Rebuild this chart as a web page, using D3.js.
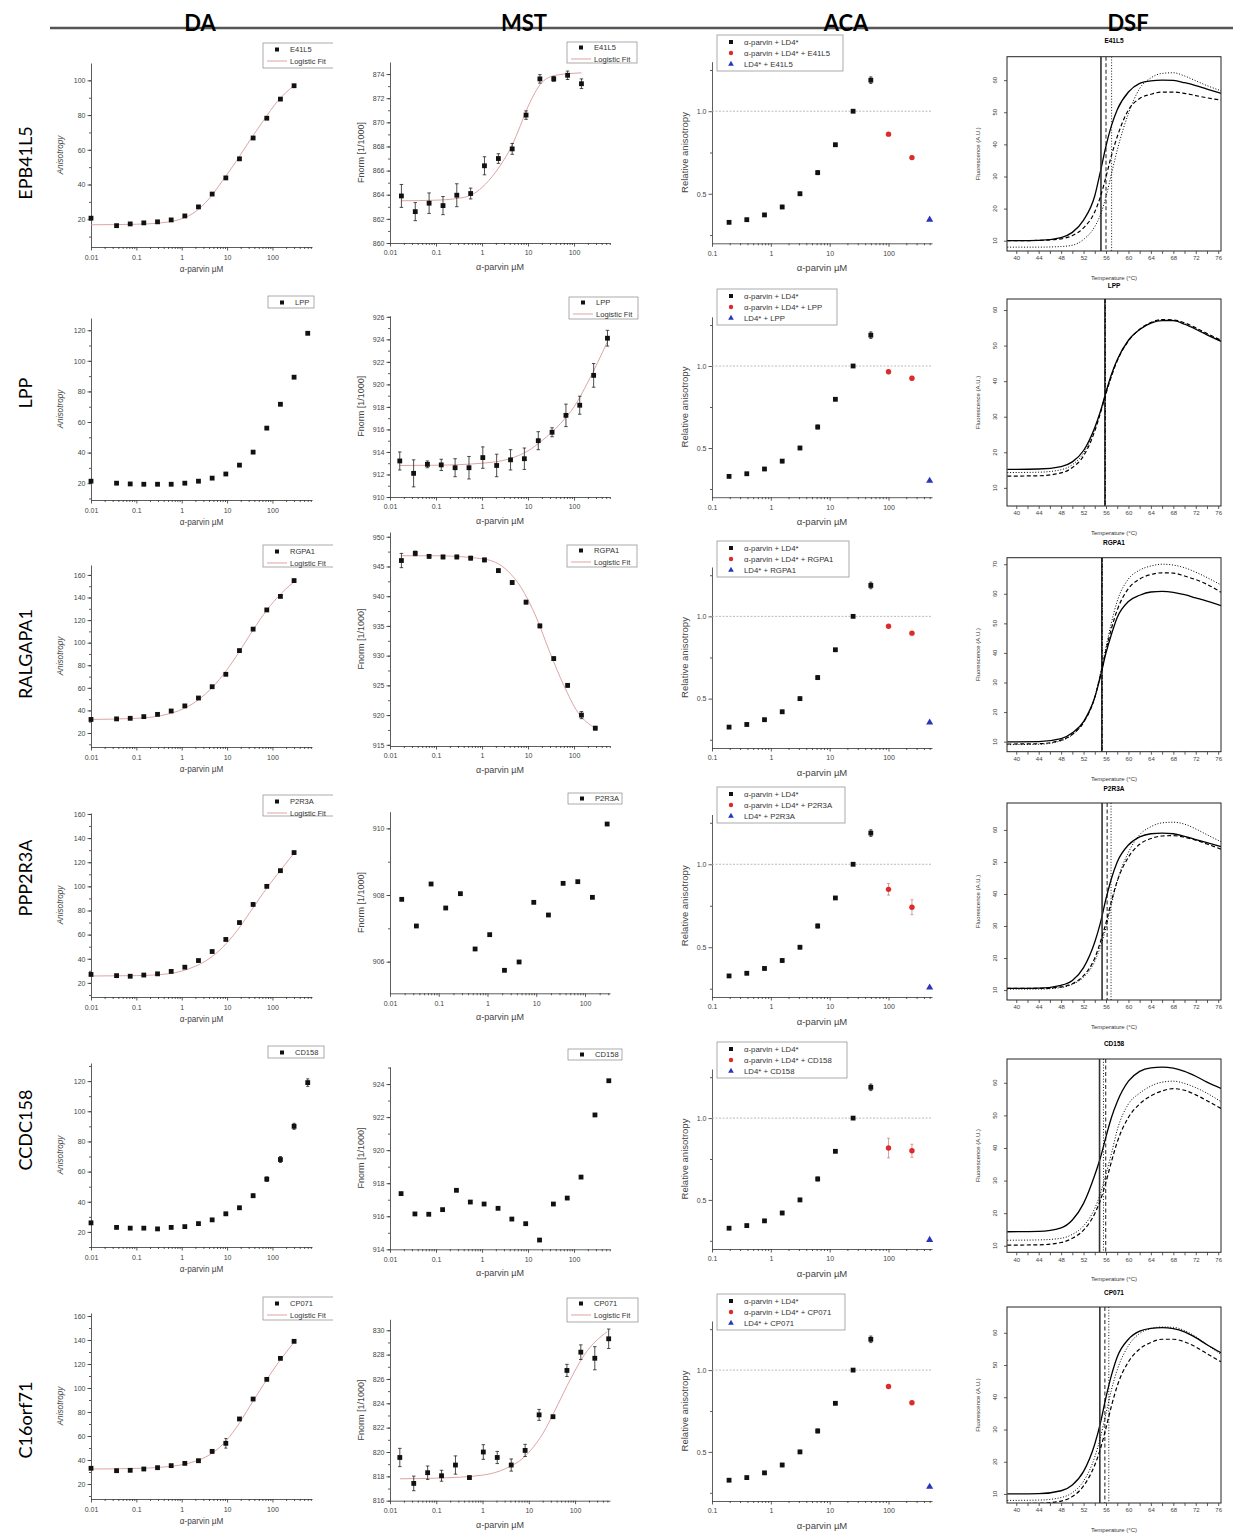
<!DOCTYPE html>
<html>
<head>
<meta charset="utf-8">
<script src="https://cdn.jsdelivr.net/npm/d3@7"></script>
<style>
  body { margin: 0; background: #fff; }
  svg { display: block; }
</style>
</head>
<body>
<svg id="fig" width="1233" height="1534"></svg>
<script>

/*******************************************************************************/
/* DATA */

const rowNames = ["EPB41L5", "LPP", "RALGAPA1", "PPP2R3A", "CCDC158", "C16orf71"];
const shortNames = ["E41L5", "LPP", "RGPA1", "P2R3A", "CD158", "CP071"];
const columnTitles = ["DA", "MST", "ACA", "DSF"];

/* DA : anisotropy vs alpha-parvin (uM); the buffer point sits at 0.01 */
const daConc = [0.01, 0.0366, 0.0732, 0.146, 0.293, 0.586, 1.17, 2.34, 4.69, 9.38, 18.75, 37.5, 75, 150, 300, 600];
const daE41L5 = [20.6, 16.3, 17.3, 17.9, 18.5, 19.6, 21.9, 27.1, 34.5, 43.8, 54.8, 66.8, 78.2, 89.2, 96.9];
const daLPP = [21.3, 20, 19.5, 19.3, 19.3, 19.3, 20, 21.3, 23.3, 26, 31.8, 40.3, 56, 71.6, 89.3, 118];
const daRGPA1 = [32, 32.5, 33, 34.5, 36.5, 39.5, 44, 51, 61, 72, 93, 112, 129, 141, 155];
const daP2R3A = [27, 26, 25.5, 26.5, 27.5, 29.5, 33, 38.5, 46, 56, 70, 85, 100, 113, 128];
const daCD158 = [26, 23, 22.5, 22.5, 22, 23, 23.5, 25.5, 28, 32, 36, 44, 55, 68, 90, 119];
const daCP071 = [33.1, 31.1, 31.4, 32.5, 33.6, 35.3, 37.2, 39.4, 47.2, 53.9, 74.2, 90.8, 107.2, 124.7, 138.9];
const daErrCD158 = [1, 0.6, 0.6, 0.6, 0.6, 0.6, 0.6, 0.8, 0.8, 1, 1, 1.2, 1.5, 2, 2, 2.5];
const daErrCP071 = [1, 0.6, 0.6, 0.6, 0.6, 0.6, 0.8, 0.8, 1.5, 4, 1, 1, 1, 1, 1];

const daFitX = [0.01, 0.1, 0.5, 1, 2, 4, 8, 16, 32, 64, 128, 300];
const daFitE41L5 = [16.8, 17.1, 18.4, 20.3, 24.3, 31.8, 42.3, 53.5, 65.5, 77, 87.8, 97];
const daFitRGPA1 = [32, 33, 36.8, 40.8, 47.5, 57.5, 71, 88, 107, 125, 140, 154];
const daFitP2R3A = [25.7, 26, 27.5, 29.8, 33.8, 40, 49.5, 62.5, 78.5, 95, 110, 127.5];
const daFitCP071 = [32.5, 33, 34.5, 36, 39, 44, 53, 67, 85, 103, 120, 138];

/* MST : Fnorm [1/1000] vs alpha-parvin (uM) */
const mstConcA = [0.0177, 0.0354, 0.0708, 0.142, 0.283, 0.566, 1.13, 2.27, 4.53, 9.06, 18.1, 36.2, 72.5, 145, 290];
const mstConcB = [0.0163, 0.0326, 0.0651, 0.130, 0.260, 0.521, 1.04, 2.08, 4.17, 8.33, 16.7, 33.3, 66.7, 133, 267, 533];
const mstConcC = [0.0174, 0.0348, 0.0696, 0.139, 0.278, 0.557, 1.11, 2.23, 4.45, 8.9, 17.8, 35.6, 71.2, 142, 285, 570];

const mstE41L5 = [863.9, 862.6, 863.3, 863.1, 863.96, 864.1, 866.4, 867.0, 867.8, 870.6, 873.6, 873.6, 873.9, 873.2];
const mstErrE41L5 = [0.95, 0.75, 0.85, 0.75, 0.95, 0.45, 0.75, 0.4, 0.45, 0.35, 0.35, 0.2, 0.35, 0.4];
const mstLPP = [913.2, 912.1, 912.9, 912.85, 912.6, 912.6, 913.5, 912.8, 913.3, 913.4, 915.0, 915.75, 917.25, 918.15, 920.8, 924.1];
const mstErrLPP = [0.8, 1.2, 0.3, 0.5, 0.8, 1.0, 0.95, 1.0, 0.9, 0.95, 0.8, 0.4, 1.0, 0.8, 1.05, 0.7];
const mstRGPA1 = [946, 947.2, 946.7, 946.6, 946.6, 946.4, 946.1, 944.3, 942.3, 939, 935, 929.5, 925, 920, 917.8];
const mstErrRGPA1 = [1.2, 0.4, 0.3, 0.3, 0.3, 0.3, 0.3, 0.3, 0.3, 0.3, 0.3, 0.3, 0.3, 0.6, 0.3];
const mstP2R3A = [907.87, 907.07, 908.33, 907.61, 908.04, 906.38, 906.81, 905.74, 905.99, 907.78, 907.4, 908.35, 908.4, 907.93, 910.13];
const mstCD158 = [917.37, 916.14, 916.12, 916.4, 917.57, 916.86, 916.74, 916.48, 915.83, 915.55, 914.56, 916.74, 917.1, 918.37, 922.13, 924.2];
const mstCP071 = [819.55, 817.42, 818.3, 818.05, 818.93, 817.9, 820.0, 819.55, 818.93, 820.13, 823.05, 822.9, 826.7, 828.2, 827.7, 829.3];
const mstErrCP071 = [0.75, 0.6, 0.55, 0.45, 0.75, 0.1, 0.6, 0.5, 0.5, 0.5, 0.45, 0.1, 0.5, 0.6, 0.95, 0.8];

const mstFitE41L5X = [0.0177, 0.1, 0.3, 0.6, 1, 2, 3, 4, 6, 10, 20, 40, 145];
const mstFitE41L5 = [863.5, 863.55, 863.7, 864.0, 864.6, 865.9, 866.9, 867.7, 869.2, 871.3, 873.3, 873.9, 874.1];
const mstFitLPPX = [0.0163, 0.1, 1, 4, 10, 20, 50, 100, 200, 533];
const mstFitLPP = [912.8, 912.82, 913.0, 913.4, 914.1, 915.0, 916.5, 918, 920.2, 923.8];
const mstFitRGPA1X = [0.0177, 0.1, 1, 3, 7, 15, 30, 60, 120, 290];
const mstFitRGPA1 = [946.8, 946.8, 946.3, 944.8, 941.5, 936.5, 930.5, 925, 920.5, 917.8];
const mstFitCP071X = [0.0164, 0.1, 1, 3, 8, 20, 40, 80, 160, 500];
const mstFitCP071 = [817.8, 817.85, 818.1, 818.6, 819.6, 821.5, 823.7, 826, 828, 829.9];

/* ACA : relative anisotropy */
const acaConc = [0.195, 0.39, 0.78, 1.56, 3.125, 6.25, 12.5, 25, 50];
const acaBlack = [0.327, 0.343, 0.372, 0.42, 0.50, 0.628, 0.797, 1.0, 1.188];
const acaBlackErr = [0.008, 0.008, 0.008, 0.01, 0.01, 0.012, 0.008, 0, 0.02];
const acaRedConc = [100, 250];
const acaBlueConc = [500];
const acaRed = [[0.861, 0.719], [0.965, 0.925], [0.94, 0.898], [0.849, 0.741], [0.817, 0.80], [0.90, 0.80]];
const acaRedErr = [[0.01, 0.01], [0.012, 0.012], [0.01, 0.01], [0.035, 0.045], [0.06, 0.04], [0.01, 0.01]];
const acaBlue = [0.343, 0.30, 0.355, 0.257, 0.256, 0.287];

/* DSF : fluorescence (A.U.) vs temperature (C) */
const dsfT = [38.4, 44, 48, 50, 52, 54, 55, 56, 57, 58, 60, 62, 64, 66, 68, 70, 72, 74, 76.5];
const dsfSolid = [
  [10, 10.1, 11, 12.6, 16.4, 24, 31.5, 39.5, 46, 50.8, 56.3, 59, 59.8, 60, 59.9, 59.2, 58.3, 57.2, 55.9],
  [15.2, 15.3, 16, 17.3, 20.5, 27, 31.5, 37, 42, 46, 51.5, 54.5, 56.3, 57, 57, 56, 54.6, 53, 51.2],
  [9.9, 10, 11, 13, 16.8, 25, 32, 40, 46.5, 52, 57.4, 59.5, 60.6, 60.8, 60.5, 59.7, 58.6, 57.5, 56],
  [10.5, 10.6, 11.5, 13, 17, 25, 31, 38.5, 45, 50, 55.3, 57.8, 58.8, 59, 58.8, 58, 57, 56, 54.8],
  [14.3, 14.4, 15.5, 17.9, 23, 31.7, 37, 43.5, 49.5, 54.2, 60.5, 63.5, 64.6, 64.8, 64.5, 63.5, 62, 60.2, 58.3],
  [10, 10.1, 11, 12.8, 17, 25.5, 32, 40, 47, 52.5, 58, 60.5, 61.4, 61.6, 61.3, 60.3, 58.5, 56.3, 53.8]
];
const dsfDashed = [
  [10, 10.1, 10.6, 11.6, 14, 19, 23.7, 29.9, 36.7, 42.4, 50.7, 54.3, 55.6, 56.3, 56.3, 55.9, 55.2, 54.5, 53.8],
  [13.3, 13.4, 14.2, 15.7, 19, 26, 31, 36.5, 41.5, 45.7, 51.3, 54.6, 56.5, 57.3, 57.2, 56.4, 55, 53.4, 51.5],
  [9.2, 9.3, 10.5, 12.5, 16.5, 25, 32.5, 41, 48.5, 54.5, 61.8, 65, 66.5, 67.1, 67, 66, 64.8, 63.2, 60.5],
  [10.5, 10.5, 11, 12, 14.5, 20, 25, 31, 38, 44, 51.5, 55.5, 57.3, 58.1, 58.2, 57.7, 56.8, 55.6, 54],
  [10.2, 10.3, 11, 12.3, 14.8, 19.9, 24, 29.6, 36, 41.8, 49.4, 53.5, 56, 57.5, 58.2, 57.7, 56.3, 54.5, 52.1],
  [7, 7.1, 7.8, 9.2, 12.5, 19, 24, 30.5, 37.5, 43.5, 51, 55, 57, 58, 58, 57.2, 55.6, 53.5, 51]
];
const dsfDotted = [
  [8, 8, 8.2, 8.6, 10.4, 14.4, 18, 23.7, 31, 38.2, 49.6, 57.4, 60.7, 62.1, 62.3, 61.3, 59.8, 58.3, 56.7],
  [14.3, 14.4, 15.1, 16.5, 19.8, 26.5, 31.2, 36.8, 41.8, 45.9, 51.4, 54.5, 56.4, 57.2, 57.1, 56.2, 54.8, 53.2, 51.3],
  [9, 9.1, 10.3, 12.3, 16.5, 25, 33, 42, 50.5, 57.5, 65, 68, 69.4, 70, 69.7, 68.8, 67.3, 65.5, 63],
  [10.3, 10.3, 10.8, 11.8, 14, 19, 23.5, 29.5, 37, 44, 53, 58.5, 61, 62.2, 62.4, 61.8, 60.3, 58.5, 56.3],
  [11.7, 11.8, 12.3, 13.5, 16.1, 21.5, 26, 32, 38.5, 45.5, 53.5, 56.8, 59, 60.2, 60.5, 59.8, 58.5, 56.8, 54.2],
  [8, 8.1, 8.9, 10.4, 14, 21.5, 27.5, 35, 42.5, 48.5, 56, 59.8, 61.3, 61.8, 61.7, 60.7, 58.8, 56.3, 53.3]
];
// melting temperatures: [solid, dashed, dotted]
const dsfTm = [[55.1, 56.0, 57.0], [55.8, 55.85, 55.9], [55.25, 55.3, 55.35], [55.3, 56.2, 56.9], [54.85, 55.95, 55.55], [54.9, 55.8, 56.5]];


/*******************************************************************************/
/* LAYOUT */

const axisFont = "'Liberation Sans', Arial, sans-serif";
const labelFont = "Lato, 'Open Sans', sans-serif";

const daLayout = [
  {top: 63, bottom: 247, yDomain: [4, 110], yStep: 20},
  {top: 318, bottom: 500, yDomain: [9, 128], yStep: 20},
  {top: 565, bottom: 747, yDomain: [7.6, 168.8], yStep: 20},
  {top: 813, bottom: 997, yDomain: [8.3, 160.8], yStep: 20},
  {top: 1063, bottom: 1247, yDomain: [10, 132], yStep: 20},
  {top: 1313, bottom: 1499, yDomain: [7.5, 162.5], yStep: 20}
];
const daLegend = [[263, 43, 25], [268, 296, 12], [263, 545, 22], [263, 795, 21], [268, 1046, 12], [263, 1297, 23]];

const mstLayout = [
  {top: 62, bottom: 243, yDomain: [860, 875], yStep: 2, xMax: 605},
  {top: 315.7, bottom: 497, yDomain: [910, 926.1], yStep: 2, xMax: 605},
  {top: 532, bottom: 746, yDomain: [914.8, 950.8], yStep: 5, xMax: 605},
  {top: 811.7, bottom: 993.3, yDomain: [905.05, 910.5], yStep: 2, xMax: 326},
  {top: 1066.7, bottom: 1249.3, yDomain: [914, 925.05], yStep: 2, xMax: 605},
  {top: 1319.3, bottom: 1500.7, yDomain: [816, 830.9], yStep: 2, xMax: 569}
];
const mstLegend = [[567, 42, 70, 21], [569, 297, 69, 22], [567, 545, 70, 22], [568, 793, 54, 11], [568, 1049, 54, 11], [567, 1298, 71, 24]];

const acaLayout = [
  {top: 61.7, bottom: 243.3}, {top: 316.8, bottom: 497.2}, {top: 567, bottom: 748},
  {top: 814.5, bottom: 997}, {top: 1069, bottom: 1249}, {top: 1321, bottom: 1501}
];
const acaLegend = [[717, 35, 126], [717, 289, 120], [717, 541, 132], [717, 787, 128], [717, 1042, 130], [717, 1294, 128]];

const dsfLayout = [
  {top: 56.7, bottom: 251, yDomain: [6.8, 67.3], yMax: 60, title: 43},
  {top: 299, bottom: 506, yDomain: [4.9, 63.1], yMax: 60, title: 288},
  {top: 557.7, bottom: 751.7, yDomain: [6.6, 72.2], yMax: 70, title: 545},
  {top: 803, bottom: 1000, yDomain: [6.9, 68.4], yMax: 60, title: 791},
  {top: 1059, bottom: 1252.3, yDomain: [8, 67.3], yMax: 60, title: 1046},
  {top: 1307, bottom: 1503, yDomain: [7.2, 68], yMax: 60, title: 1295}
];

const rowLabelY = [163, 393, 654, 878, 1130, 1420];
const headerX = [200, 524, 846, 1128];

const fitColor = "#d99a9a";


/*******************************************************************************/
/* PAGE */

const svg = d3.select("#fig");

svg.append("line")
  .attr("x1", 50).attr("x2", 1233).attr("y1", 28).attr("y2", 28)
  .attr("stroke", "#555").attr("stroke-width", 2.5);

columnTitles.forEach(function(t, i) {
  svg.append("text")
    .attr("x", headerX[i]).attr("y", 31)
    .attr("text-anchor", "middle")
    .attr("font-family", labelFont).attr("font-weight", "bold").attr("font-size", 22)
    .text(t);
});

rowNames.forEach(function(t, i) {
  svg.append("text")
    .attr("transform", translate(32, rowLabelY[i]) + " rotate(-90)")
    .attr("text-anchor", "middle")
    .attr("font-family", labelFont).attr("font-size", 18)
    .text(t);
});

const defs = svg.append("defs");
defs.append("clipPath").attr("id", "daClip")
  .append("rect").attr("x", 0).attr("y", 0).attr("width", 333).attr("height", 1534);


/*******************************************************************************/
/* DA */

const daRows = [
  {ys: daE41L5, fit: daFitE41L5},
  {ys: daLPP, fit: null},
  {ys: daRGPA1, fit: daFitRGPA1},
  {ys: daP2R3A, fit: daFitP2R3A},
  {ys: daCD158, fit: null, err: daErrCD158},
  {ys: daCP071, fit: daFitCP071, err: daErrCP071}
];

daRows.forEach(function(row, r) {
  const L = daLayout[r];
  const p = originPanel({
    left: 91, right: 312, top: L.top, bottom: L.bottom,
    xDomain: [0.01, 745], yDomain: L.yDomain,
    yMajor: d3.range(20, L.yDomain[1] + 0.01, L.yStep),
    yMinor: d3.range(10, L.yDomain[1], L.yStep / 2),
    tickFont: 7, titleFont: 8.2,
    yTitle: "Anisotropy", yTitleX: 63, yItalic: true,
    xLabelDy: 11, xTitleDy: 25
  });
  if (row.fit) drawPath(p.g, p.x, p.y, daFitX, row.fit, fitColor, 0.9);
  drawSquares(p.g, p.x, p.y, daConc, row.ys, row.err || row.ys.map(() => 0.5));

  const lg = svg.append("g").attr("clip-path", "url(#daClip)");
  const [lx, ly, lh] = daLegend[r];
  const entries = [{type: "square", label: shortNames[r]}];
  if (row.fit) entries.push({type: "line", label: "Logistic Fit"});
  drawLegend(lg, lx, ly, row.fit ? 80 : (r === 1 ? 46 : 56), lh, entries, 6.5, 11.5, 7.5);
});


/*******************************************************************************/
/* MST */

const mstRows = [
  {xs: mstConcA, ys: mstE41L5, err: mstErrE41L5, fitX: mstFitE41L5X, fit: mstFitE41L5},
  {xs: mstConcB, ys: mstLPP, err: mstErrLPP, fitX: mstFitLPPX, fit: mstFitLPP},
  {xs: mstConcA, ys: mstRGPA1, err: mstErrRGPA1, fitX: mstFitRGPA1X, fit: mstFitRGPA1},
  {xs: mstConcC, ys: mstP2R3A, err: null},
  {xs: mstConcC, ys: mstCD158, err: null},
  {xs: mstConcB, ys: mstCP071, err: mstErrCP071, fitX: mstFitCP071X, fit: mstFitCP071}
];

mstRows.forEach(function(row, r) {
  const L = mstLayout[r];
  const first = Math.ceil(L.yDomain[0] / L.yStep) * L.yStep;
  const p = originPanel({
    left: 390, right: 610, top: L.top, bottom: L.bottom,
    xDomain: [0.01, L.xMax], yDomain: L.yDomain,
    yMajor: d3.range(first, L.yDomain[1] + 0.01, L.yStep),
    yMinor: d3.range(first - L.yStep / 2, L.yDomain[1], L.yStep / 2).filter(v => v >= L.yDomain[0]),
    tickFont: 7, titleFont: 9,
    yTitle: "Fnorm [1/1000]", yTitleX: 364, yItalic: false,
    xLabelDy: 10, xTitleDy: 27
  });
  if (row.fit) drawPath(p.g, p.x, p.y, row.fitX, row.fit, fitColor, 0.9);
  if (row.err) drawErrors(p.g, p.x, p.y, row.xs, row.ys, row.err, 3.5);
  drawSquares(p.g, p.x, p.y, row.xs, row.ys, null);

  const [lx, ly, lw, lh] = mstLegend[r];
  const entries = [{type: "square", label: shortNames[r]}];
  if (row.fit) entries.push({type: "line", label: "Logistic Fit"});
  drawLegend(svg.append("g"), lx, ly, lw, lh, entries, 5.5, 11.5, 7.6);
});


/*******************************************************************************/
/* ACA */

acaLayout.forEach(function(L, r) {
  const p = originPanel({
    left: 712, right: 932, top: L.top, bottom: L.bottom,
    xDomain: [0.1, 548], yDomain: [0.2, 1.3],
    yMajor: [0.5, 1.0], yMinor: [0.25, 0.75, 1.25],
    yFormat: d3.format(".1f"),
    tickFont: 7, titleFont: 9.5,
    yTitle: "Relative anisotropy", yTitleX: 688, yItalic: false,
    xLabelDy: 10, xTitleDy: 28
  });

  p.g.append("line")
    .attr("x1", 712).attr("x2", 931).attr("y1", p.y(1)).attr("y2", p.y(1))
    .attr("stroke", "#aaa").attr("stroke-width", 0.8).attr("stroke-dasharray", "2,1.5");

  drawErrors(p.g, p.x, p.y, acaConc, acaBlack, acaBlackErr, 3);
  drawSquares(p.g, p.x, p.y, acaConc, acaBlack, null);

  drawErrors(p.g, p.x, p.y, acaRedConc, acaRed[r], acaRedErr[r], 3, "#c88");
  p.g.selectAll("circle.red")
    .data(acaRedConc.map((c, i) => [c, acaRed[r][i]]))
    .enter().append("circle")
    .attr("class", "red")
    .attr("cx", d => p.x(d[0])).attr("cy", d => p.y(d[1]))
    .attr("r", 2.7).attr("fill", "#dd2a2a");

  p.g.selectAll("path.blue")
    .data(acaBlueConc.map(c => [c, acaBlue[r]]))
    .enter().append("path")
    .attr("class", "blue")
    .attr("d", d3.symbol(d3.symbolTriangle, 22))
    .attr("transform", d => translate(p.x(d[0]), p.y(d[1])))
    .attr("fill", "#2a36b8");

  const [lx, ly, lw] = acaLegend[r];
  drawLegend(svg.append("g"), lx, ly, lw, 36, [
    {type: "square", label: "\u03b1-parvin + LD4*"},
    {type: "circle", label: "\u03b1-parvin + LD4* + " + shortNames[r]},
    {type: "triangle", label: "LD4* + " + shortNames[r]}
  ], 7, 11, 7.8);
});


/*******************************************************************************/
/* DSF */

dsfLayout.forEach(function(L, r) {
  const left = 1007, right = 1221;
  const x = d3.scaleLinear().domain([38.35, 76.5]).range([left, right]);
  const y = d3.scaleLinear().domain(L.yDomain).range([L.bottom, L.top]);
  const g = svg.append("g");

  defs.append("clipPath").attr("id", "dsfClip" + r)
    .append("rect").attr("x", left).attr("y", L.top).attr("width", right - left).attr("height", L.bottom - L.top);

  const plot = g.append("g").attr("clip-path", "url(#dsfClip" + r + ")");
  const line = d3.line().x(d => x(d[0])).y(d => y(d[1])).curve(d3.curveMonotoneX);

  const styles = [
    {data: dsfSolid[r], dash: null, w: 1.3},
    {data: dsfDashed[r], dash: "4,2.5", w: 1.2},
    {data: dsfDotted[r], dash: "1,1.8", w: 1}
  ];
  styles.forEach(function(s, k) {
    plot.append("path")
      .attr("d", line(dsfT.map((t, i) => [t, s.data[i]])))
      .attr("fill", "none").attr("stroke", "#000")
      .attr("stroke-width", s.w).attr("stroke-dasharray", s.dash);
    plot.append("line")
      .attr("x1", x(dsfTm[r][k])).attr("x2", x(dsfTm[r][k]))
      .attr("y1", L.top).attr("y2", L.bottom)
      .attr("stroke", k === 0 ? "#333" : "#000")
      .attr("stroke-width", k === 0 ? 1.6 : 0.9)
      .attr("stroke-dasharray", s.dash);
  });

  g.append("rect")
    .attr("x", left).attr("y", L.top).attr("width", right - left).attr("height", L.bottom - L.top)
    .attr("fill", "none").attr("stroke", "#222").attr("stroke-width", 1);

  const xAxis = g.append("g").attr("transform", translate(0, L.bottom))
    .call(d3.axisBottom(x).tickValues(d3.range(40, 77, 2)).tickSize(3).tickPadding(2)
      .tickFormat(d => d % 4 === 0 ? d : ""));
  styleAxis(xAxis, 6);
  xAxis.select(".domain").remove();

  const yTicks = d3.range(10, L.yMax + 1, 10);
  const yAxis = g.append("g").attr("transform", translate(left, 0))
    .call(d3.axisLeft(y).tickValues(yTicks).tickSize(3).tickFormat(""));
  styleAxis(yAxis, 6);
  yAxis.select(".domain").remove();

  g.selectAll("text.ylab")
    .data(yTicks)
    .enter().append("text")
    .attr("class", "ylab")
    .attr("transform", d => translate(left - 10.5, y(d)) + " rotate(-90)")
    .attr("text-anchor", "middle")
    .attr("font-family", axisFont).attr("font-size", 6).attr("fill", "#333")
    .text(d => d);

  g.append("text")
    .attr("x", (left + right) / 2).attr("y", L.bottom + 29)
    .attr("text-anchor", "middle")
    .attr("font-family", axisFont).attr("font-size", 6).attr("fill", "#333")
    .text("Temperature (\u00b0C)");

  g.append("text")
    .attr("transform", translate(980, (L.top + L.bottom) / 2) + " rotate(-90)")
    .attr("text-anchor", "middle")
    .attr("font-family", axisFont).attr("font-size", 6).attr("fill", "#333")
    .text("Fluorescence (A.U.)");

  g.append("text")
    .attr("x", (left + right) / 2).attr("y", L.title)
    .attr("text-anchor", "middle")
    .attr("font-family", axisFont).attr("font-weight", "bold").attr("font-size", 6.5)
    .text(shortNames[r]);
});


/*******************************************************************************/
/* SHARED FUNCTIONS */

function originPanel(cfg) {
  const g = svg.append("g");
  const x = d3.scaleLog().domain(cfg.xDomain).range([cfg.left, cfg.right]);
  const y = d3.scaleLinear().domain(cfg.yDomain).range([cfg.bottom, cfg.top]);

  const yAxis = g.append("g").attr("transform", translate(cfg.left, 0))
    .call(d3.axisLeft(y).tickValues(cfg.yMajor).tickSize(3.5).tickPadding(2).tickSizeOuter(0)
      .tickFormat(cfg.yFormat || d3.format("d")));
  styleAxis(yAxis, cfg.tickFont);

  const yMinor = g.append("g").attr("transform", translate(cfg.left, 0))
    .call(d3.axisLeft(y).tickValues(cfg.yMinor).tickSize(2).tickFormat(""));
  yMinor.select(".domain").remove();
  styleAxis(yMinor, cfg.tickFont);

  const all = x.ticks();
  const major = all.filter(isPow10);
  const minor = all.filter(d => !isPow10(d));

  const xAxis = g.append("g").attr("transform", translate(0, cfg.bottom))
    .call(d3.axisBottom(x).tickValues(major).tickSize(3.5).tickPadding(cfg.xLabelDy - 6).tickSizeOuter(0)
      .tickFormat(d3.format("~g")));
  styleAxis(xAxis, cfg.tickFont);

  const xMinor = g.append("g").attr("transform", translate(0, cfg.bottom))
    .call(d3.axisBottom(x).tickValues(minor).tickSize(2).tickFormat(""));
  xMinor.select(".domain").remove();
  styleAxis(xMinor, cfg.tickFont);

  g.append("text")
    .attr("x", midpoint([cfg.left, cfg.right])).attr("y", cfg.bottom + cfg.xTitleDy)
    .attr("text-anchor", "middle")
    .attr("font-family", axisFont).attr("font-size", cfg.titleFont).attr("fill", "#444")
    .text("\u03b1-parvin \u00b5M");

  g.append("text")
    .attr("transform", translate(cfg.yTitleX, midpoint([cfg.top, cfg.bottom])) + " rotate(-90)")
    .attr("text-anchor", "middle")
    .attr("font-family", axisFont).attr("font-size", cfg.titleFont).attr("fill", "#444")
    .attr("font-style", cfg.yItalic ? "italic" : "normal")
    .text(cfg.yTitle);

  return {g: g, x: x, y: y};
}

function styleAxis(sel, fontSize) {
  sel.attr("font-family", axisFont).attr("font-size", fontSize);
  sel.selectAll(".domain, .tick line").attr("stroke", "#333").attr("stroke-width", 0.8);
  sel.selectAll(".tick text").attr("fill", "#444");
}

function drawSquares(g, x, y, xs, ys, errs) {
  const pts = ys.map((v, i) => ({c: xs[i], v: v, e: errs ? errs[i] : 0}));
  if (errs) drawErrors(g, x, y, xs, ys, errs, 3);
  g.selectAll(null)
    .data(pts)
    .enter().append("rect")
    .attr("x", d => x(d.c) - 2.4).attr("y", d => y(d.v) - 2.4)
    .attr("width", 4.8).attr("height", 4.8)
    .attr("fill", "#111");
}

function drawErrors(g, x, y, xs, ys, errs, cap, color) {
  const pts = ys.map((v, i) => ({c: xs[i], v: v, e: errs[i]})).filter(d => d.e > 0);
  const eg = g.append("g").attr("stroke", color || "#222").attr("stroke-width", 0.8);
  eg.selectAll("path")
    .data(pts)
    .enter().append("path")
    .attr("fill", "none")
    .attr("d", function(d) {
      const cx = x(d.c), y0 = y(d.v - d.e), y1 = y(d.v + d.e);
      return "M" + cx + "," + y0 + "V" + y1 +
        "M" + (cx - cap / 2) + "," + y0 + "h" + cap +
        "M" + (cx - cap / 2) + "," + y1 + "h" + cap;
    });
}

function drawPath(g, x, y, xs, ys, color, width) {
  const line = d3.line().x(d => x(d[0])).y(d => y(d[1])).curve(d3.curveMonotoneX);
  g.append("path")
    .attr("d", line(xs.map((c, i) => [c, ys[i]])))
    .attr("fill", "none").attr("stroke", color).attr("stroke-width", width);
}

function drawLegend(g, x0, y0, w, h, entries, firstDy, stepDy, fontSize) {
  g.append("rect")
    .attr("x", x0).attr("y", y0).attr("width", w).attr("height", h)
    .attr("fill", "#fff").attr("stroke", "#888").attr("stroke-width", 0.7);
  entries.forEach(function(e, i) {
    const cy = y0 + firstDy + i * stepDy;
    const mx = x0 + 14;
    if (e.type === "square") {
      g.append("rect").attr("x", mx - 2).attr("y", cy - 2).attr("width", 4).attr("height", 4).attr("fill", "#111");
    } else if (e.type === "circle") {
      g.append("circle").attr("cx", mx).attr("cy", cy).attr("r", 2.2).attr("fill", "#dd2a2a");
    } else if (e.type === "triangle") {
      g.append("path").attr("d", d3.symbol(d3.symbolTriangle, 14)).attr("transform", translate(mx, cy)).attr("fill", "#2a36b8");
    } else {
      g.append("line").attr("x1", x0 + 4).attr("x2", x0 + 24).attr("y1", cy).attr("y2", cy)
        .attr("stroke", fitColor).attr("stroke-width", 0.9);
    }
    g.append("text")
      .attr("x", x0 + 27).attr("y", cy).attr("dy", "0.35em")
      .attr("font-family", axisFont).attr("font-size", fontSize).attr("fill", "#333")
      .text(e.label);
  });
}

function isPow10(d) {
  const l = Math.log10(d);
  return Math.abs(l - Math.round(l)) < 1e-6;
}

function midpoint(range) {
  return range[0] + (range[1] - range[0]) / 2.0;
}

function translate(x, y) {
  return 'translate(' + String(x) + ',' + String(y) + ')';
}

</script>
</body>
</html>
